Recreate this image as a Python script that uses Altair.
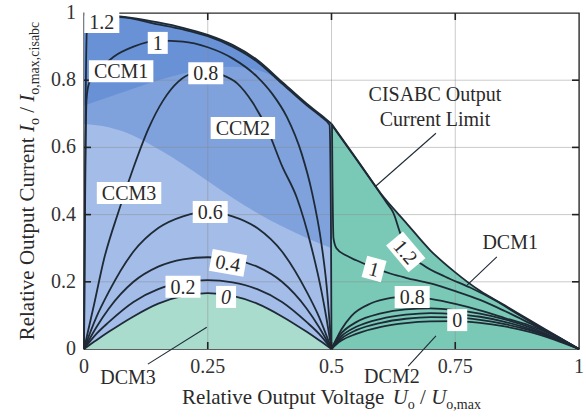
import altair as alt
import pandas as pd

FONT = "Liberation Serif"
INK = "#1e2a36"
TXT = "#2a2a2a"

# ---- CISABC output current limit (left: CCM side, right: DCM side)
env_l_x = [0, 0.05, 0.1, 0.15, 0.2, 0.25, 0.3, 0.35, 0.4, 0.45, 0.48, 0.5]
env_l_y = [0.995, 0.993, 0.985, 0.972, 0.956, 0.935, 0.905, 0.86, 0.795, 0.73, 0.695, 0.67]
env_r_x = [0.5, 0.55, 0.6, 0.65, 0.7, 0.75, 0.8, 0.85, 0.9, 0.95, 1.0]
env_r_y = [0.67, 0.567, 0.462, 0.377, 0.293, 0.228, 0.173, 0.13, 0.086, 0.043, 0.0]

# ---- mode boundaries inside the CCM area
ccm1_x = [0, 0.05, 0.1, 0.15, 0.2, 0.25, 0.3, 0.35, 0.4, 0.45, 0.48, 0.5]
ccm1_y = [0.725, 0.75, 0.775, 0.8, 0.82, 0.835, 0.84, 0.83, 0.795, 0.73, 0.695, 0.67]
ccm3_x = [0, 0.05, 0.1, 0.15, 0.2, 0.25, 0.3, 0.35, 0.4, 0.45, 0.5]
ccm3_y = [0.67, 0.66, 0.635, 0.595, 0.55, 0.5, 0.45, 0.405, 0.365, 0.33, 0.3]

# ---- constant-parameter curves, left half
arch_x = [0, 0.025, 0.05, 0.1, 0.15, 0.2, 0.25, 0.3, 0.35, 0.4, 0.45, 0.475, 0.5]
l00_y = [0, 0.026, 0.051, 0.097, 0.135, 0.158, 0.166, 0.158, 0.135, 0.097, 0.051, 0.026, 0]
l02_y = [0, 0.045, 0.08, 0.14, 0.178, 0.198, 0.205, 0.198, 0.178, 0.14, 0.08, 0.045, 0]
l04_y = [0, 0.065, 0.12, 0.2, 0.245, 0.267, 0.273, 0.267, 0.245, 0.2, 0.12, 0.065, 0]
l06_y = [0, 0.095, 0.17, 0.29, 0.36, 0.395, 0.408, 0.395, 0.36, 0.29, 0.17, 0.095, 0]
l08_x = [0, 0.02, 0.04, 0.07, 0.1, 0.13, 0.16, 0.19, 0.22, 0.25, 0.28, 0.31, 0.34, 0.37, 0.4, 0.43, 0.46, 0.48, 0.49, 0.5]
l08_y = [0, 0.13, 0.265, 0.41, 0.54, 0.655, 0.74, 0.795, 0.82, 0.825, 0.815, 0.79, 0.735, 0.655, 0.545, 0.45, 0.3, 0.17, 0.09, 0]
l10_x = [0, 0.002, 0.005, 0.01, 0.03, 0.06, 0.1, 0.15, 0.2, 0.25, 0.3, 0.35, 0.38, 0.41, 0.44, 0.46, 0.48, 0.49, 0.5]
l10_y = [0, 0.4, 0.74, 0.79, 0.83, 0.87, 0.9, 0.918, 0.915, 0.898, 0.865, 0.81, 0.76, 0.69, 0.58, 0.47, 0.31, 0.19, 0]
l12_x = [0, 0.002, 0.006, 0.02, 0.07, 0.15, 0.2, 0.25, 0.3, 0.35, 0.4, 0.45, 0.48, 0.496, 0.499, 0.5]
l12_y = [0, 0.5, 0.95, 0.982, 0.988, 0.966, 0.951, 0.931, 0.9, 0.855, 0.79, 0.725, 0.69, 0.667, 0.35, 0]

# ---- constant-parameter curves, right half
r_x = [0.5, 0.51, 0.52, 0.55, 0.6, 0.65, 0.7, 0.75, 0.8, 0.85, 0.9, 0.95, 1.0]
r00_y = [0, 0.014, 0.025, 0.045, 0.066, 0.077, 0.082, 0.083, 0.078, 0.067, 0.051, 0.028, 0]
r02_y = [0, 0.018, 0.031, 0.056, 0.078, 0.09, 0.095, 0.094, 0.087, 0.074, 0.056, 0.031, 0]
r04_y = [0, 0.022, 0.038, 0.066, 0.09, 0.102, 0.107, 0.104, 0.096, 0.081, 0.06, 0.033, 0]
r06_y = [0, 0.028, 0.047, 0.08, 0.106, 0.118, 0.121, 0.116, 0.105, 0.088, 0.065, 0.035, 0]
r08_x = [0.5, 0.505, 0.51, 0.52, 0.54, 0.58, 0.62, 0.66, 0.7, 0.75, 0.8, 0.85, 0.9, 0.95, 1.0]
r08_y = [0, 0.015, 0.03, 0.058, 0.098, 0.136, 0.152, 0.157, 0.149, 0.134, 0.115, 0.092, 0.07, 0.04, 0]
r10_x = [0.501, 0.502, 0.504, 0.51, 0.53, 0.55, 0.585, 0.62, 0.65, 0.7, 0.75, 0.8, 0.85, 0.9, 0.95, 1.0]
r10_y = [0.665, 0.5, 0.33, 0.3, 0.278, 0.264, 0.242, 0.224, 0.212, 0.195, 0.172, 0.146, 0.113, 0.077, 0.04, 0]
r12_x = [0.5, 0.55, 0.6, 0.61, 0.625, 0.64, 0.655, 0.685, 0.73, 0.78, 0.83, 0.874, 0.92, 0.968, 1.0]
r12_y = [0.668, 0.565, 0.46, 0.438, 0.405, 0.34, 0.29, 0.25, 0.215, 0.183, 0.145, 0.106, 0.065, 0.027, 0]

# ---- boxed curve labels
box_text = ["1.2", "1", "CCM1", "0.8", "CCM2", "CCM3", "0.6", "0.4", "0.2", "0", "1.2", "1", "0.8", "0"]
box_x = [0.036, 0.149, 0.075, 0.246, 0.321, 0.091, 0.255, 0.291, 0.2, 0.287, 0.65, 0.586, 0.663, 0.754]
box_y = [0.973, 0.911, 0.827, 0.821, 0.658, 0.464, 0.408, 0.256, 0.185, 0.155, 0.289, 0.238, 0.155, 0.086]
box_angle = [0, 0, 0, 0, 0, 0, 0, 10, 0, 0, 50, 15, 0, 0]
box_style = ["normal"] * 9 + ["italic"] + ["normal"] * 4

# ---- free annotations and their leader lines
note_text = ["CISABC Output", "Current Limit", "DCM1", "DCM3", "DCM2"]
note_x = [0.709, 0.709, 0.861, 0.089, 0.622]
note_y = [0.756, 0.682, 0.315, -0.086, -0.083]
lead_x1 = [0.711, 0.834, 0.129, 0.711]
lead_y1 = [0.642, 0.274, -0.045, 0.039]
lead_x2 = [0.588, 0.774, 0.248, 0.655]
lead_y2 = [0.483, 0.19, 0.065, -0.051]

# ---- axes
x_ticks = [0, 0.25, 0.5, 0.75, 1]
y_ticks = [0, 0.2, 0.4, 0.6, 0.8, 1]
x_inner = [0.25, 0.5, 0.75]
y_inner = [0.2, 0.4, 0.6, 0.8]

W, H = 495, 336

# Times-compatible advance widths (em) for laying out text pieces
ADV = {'0': .5, '1': .5, '2': .5, '3': .5, '4': .5, '5': .5, '6': .5, '7': .5, '8': .5, '9': .5,
       '.': .25, ',': .25, ' ': .25, '/': .278, 'C': .667, 'M': .889, 'I': .333, 'S': .556,
       'A': .722, 'B': .667, 'O': .722, 'U': .722, 'R': .667, 'V': .722, 'L': .611, 'D': .722,
       'a': .444, 'b': .5, 'c': .444, 'e': .444, 'g': .5, 'i': .278, 'l': .278, 'm': .778,
       'n': .5, 'o': .5, 'p': .5, 'r': .333, 's': .389, 't': .278, 'u': .5, 'v': .5, 'x': .5}


def text_w(s, size):
    return sum(ADV.get(c, 0.5) for c in s) * size


xs = alt.Scale(domain=[0, 1], nice=False)
ys = alt.Scale(domain=[0, 1], nice=False)
X = alt.X("x:Q", scale=xs, axis=None)
Y = alt.Y("y:Q", scale=ys, axis=None)


def series(xv, yv, name=""):
    return pd.DataFrame({"x": xv, "y": yv, "curve": name, "ord": list(range(len(xv)))})


def area(xv, yv, color):
    return alt.Chart(series(xv, yv)).mark_area(color=color, opacity=1, interpolate="monotone").encode(
        x=X, y=Y, y2=alt.datum(0))


layers = []

# region fills
layers.append(area(env_l_x, env_l_y, "#6891d6"))
layers.append(area(ccm1_x, ccm1_y, "#7fa1dc"))
layers.append(area(ccm3_x, ccm3_y, "#a4bce8"))
layers.append(area(arch_x, l00_y, "#a9dccd"))
layers.append(area(env_r_x, env_r_y, "#7ac9b6"))

# grid lines
layers.append(alt.Chart(pd.DataFrame({"x": x_inner})).mark_rule(color="#8a8a8a", opacity=0.45, strokeWidth=1).encode(x=X))
layers.append(alt.Chart(pd.DataFrame({"y": y_inner})).mark_rule(color="#8a8a8a", opacity=0.45, strokeWidth=1).encode(y=Y))

# curves
curves = pd.concat([
    series(arch_x, l00_y, "l00"), series(arch_x, l02_y, "l02"), series(arch_x, l04_y, "l04"),
    series(arch_x, l06_y, "l06"), series(l08_x, l08_y, "l08"), series(l10_x, l10_y, "l10"),
    series(l12_x, l12_y, "l12"),
    series(r_x, r00_y, "r00"), series(r_x, r02_y, "r02"), series(r_x, r04_y, "r04"),
    series(r_x, r06_y, "r06"), series(r08_x, r08_y, "r08"), series(r10_x, r10_y, "r10"),
    series(r12_x, r12_y, "r12"),
    series(env_l_x, env_l_y, "envl"), series(env_r_x, env_r_y, "envr"),
], ignore_index=True)
layers.append(alt.Chart(curves).mark_line(color=INK, strokeWidth=1.8, interpolate="monotone").encode(
    x=X, y=Y, detail="curve:N", order="ord:Q"))

# leader lines
leads = pd.DataFrame({"x": lead_x1, "y": lead_y1, "x2": lead_x2, "y2": lead_y2})
layers.append(alt.Chart(leads).mark_rule(color=INK, strokeWidth=1.1).encode(
    x=X, y=Y, x2="x2:Q", y2="y2:Q"))

# frame lines and inward ticks on all four sides
tx = pd.DataFrame({"x": x_inner})
ty = pd.DataFrame({"y": y_inner})
tick = dict(color="#222", strokeWidth=1.6)
layers.append(alt.Chart(tx).mark_rule(**tick).encode(x=X, y=alt.value(H), y2=alt.value(H - 7)))
layers.append(alt.Chart(tx).mark_rule(**tick).encode(x=X, y=alt.value(0), y2=alt.value(7)))
layers.append(alt.Chart(ty).mark_rule(**tick).encode(y=Y, x=alt.value(0), x2=alt.value(7)))
layers.append(alt.Chart(ty).mark_rule(**tick).encode(y=Y, x=alt.value(W), x2=alt.value(W - 7)))

# tick labels
xl = pd.DataFrame({"x": x_ticks, "t": ["{:g}".format(v) for v in x_ticks]})
yl = pd.DataFrame({"y": y_ticks, "t": ["{:g}".format(v) for v in y_ticks]})
layers.append(alt.Chart(xl).mark_text(font=FONT, fontSize=20, color="#333", align="center", baseline="middle").encode(
    x=X, y=alt.value(H + 18), text="t:N"))
layers.append(alt.Chart(yl).mark_text(font=FONT, fontSize=20, color="#333", align="right", baseline="middle").encode(
    y=Y, x=alt.value(-8), text="t:N"))

# white label boxes and their texts
LAB = 20
bw = [text_w(t, LAB) + 10 for t in box_text]
bh = 22
boxes = pd.DataFrame({
    "x": box_x, "y": box_y, "ang": box_angle, "t": box_text, "st": box_style,
    "sz": [w * w for w in bw],
    "shape": ["M-1,-{r:.4f}L1,-{r:.4f}L1,{r:.4f}L-1,{r:.4f}Z".format(r=bh / w) for w in bw],
})
layers.append(alt.Chart(boxes).mark_point(filled=True, color="white", opacity=1, strokeWidth=0).encode(
    x=X, y=Y,
    shape=alt.Shape("shape:N", scale=None), size=alt.Size("sz:Q", scale=None),
    angle=alt.Angle("ang:Q", scale=None)))
for style in ["normal", "italic"]:
    sub = boxes[boxes["st"] == style]
    layers.append(alt.Chart(sub).mark_text(font=FONT, fontSize=LAB, color=TXT, fontStyle=style,
                                           align="center", baseline="middle", dy=1).encode(
        x=X, y=Y, text="t:N", angle=alt.Angle("ang:Q", scale=None)))

notes = pd.DataFrame({"x": note_x, "y": note_y, "t": note_text})
layers.append(alt.Chart(notes).mark_text(font=FONT, fontSize=LAB, color=TXT, align="center", baseline="middle").encode(
    x=X, y=Y, text="t:N"))

# axis titles with italic symbols and subscripts
one = pd.DataFrame({"a": [0]})


def title_layers(pieces, px, py, angle):
    widths = [text_w(t, fs) for t, _, fs, _ in pieces]
    pos = -sum(widths) / 2
    out = []
    for (t, style, fs, dy), w in zip(pieces, widths):
        if t.strip():
            out.append(alt.Chart(one).mark_text(
                text=t, font=FONT, fontSize=fs, fontStyle=style, color=TXT, align="left",
                baseline="alphabetic", dx=pos, dy=dy, angle=angle).encode(
                x=alt.value(px), y=alt.value(py)))
        pos += w
    return out


TS, SS = 21, 14
x_title = [("Relative Output Voltage", "normal", TS, 0), (" ", "normal", TS, 0),
           ("U", "italic", TS, 0), ("o", "normal", SS, 5), (" ", "normal", TS, 0),
           ("/", "normal", TS, 0), (" ", "normal", TS, 0), ("U", "italic", TS, 0),
           ("o,max", "normal", SS, 5)]
y_title = [("Relative Output Current", "normal", TS, 0), (" ", "normal", TS, 0),
           ("I", "italic", TS, 0), ("o", "normal", SS, 5), (" ", "normal", TS, 0),
           ("/", "normal", TS, 0), (" ", "normal", TS, 0), ("I", "italic", TS, 0),
           ("o,max,cisabc", "normal", SS, 5)]
layers += title_layers(x_title, W / 2, 391, 0)
layers += title_layers(y_title, -50, H / 2, 270)

chart = alt.layer(*layers).properties(
    width=W, height=H,
    autosize=alt.AutoSizeParams(type="none"),
    padding={"left": 84, "top": 13, "right": 7, "bottom": 70},
).configure_view(
    stroke="#2a2a2a", strokeWidth=1.4,
)

chart.save("out.html", embed_options={"renderer": "svg", "actions": False})
